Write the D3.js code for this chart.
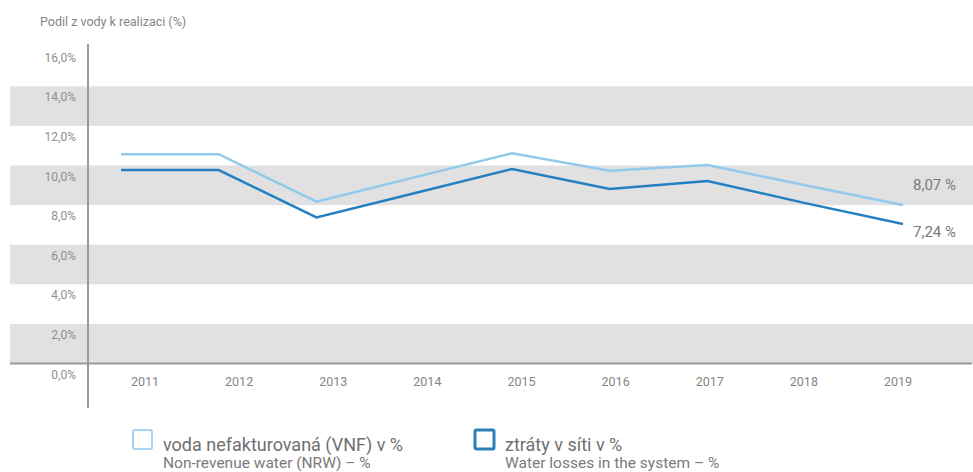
<!DOCTYPE html>
<html>
<head>
<meta charset="utf-8">
<script src="https://cdn.jsdelivr.net/npm/d3@7"></script>
<style>
  body { margin: 0; background: #fff; }
  text { font-family: Roboto, "Noto Sans", sans-serif; }
</style>
</head>
<body>
<div class="chart"></div>
<script>
// data
var years = ["2011", "2012", "2013", "2014", "2015", "2016", "2017", "2018", "2019"];
var nrw = [10.57, 10.57, 8.17, 9.4, 10.62, 9.74, 10.03, 9.0, 8.0];
var losses = [9.77, 9.77, 7.38, 8.6, 9.82, 8.81, 9.22, 8.1, 7.05];
var endLabels = ["8,07 %", "7,24 %"];
var yTicks = [0, 2, 4, 6, 8, 10, 12, 14, 16];
var bands = [[0, 2], [4, 6], [8, 10], [12, 14]];

var svgWidth = 973;
var svgHeight = 472;

var svg = d3.select(".chart")
    .append("svg")
    .attr("width", svgWidth)
    .attr("height", svgHeight);

var yScale = d3.scaleLinear().domain([0, 16]).range([363.5, 46.7]);
var xLine = d3.scalePoint().domain(years).range([121, 903]);
var xLabel = d3.scalePoint().domain(years).range([145, 898]);

// grey bands
svg.selectAll("rect.band")
    .data(bands)
    .enter()
    .append("rect")
    .attr("class", "band")
    .attr("x", 10)
    .attr("width", 963)
    .attr("y", function(d) { return yScale(d[1]); })
    .attr("height", function(d) { return yScale(d[0]) - yScale(d[1]); })
    .attr("fill", "#e1e1e1");

// baseline + vertical axis
svg.append("line")
    .attr("x1", 10).attr("x2", 972)
    .attr("y1", yScale(0)).attr("y2", yScale(0))
    .attr("stroke", "#9a9a9a").attr("stroke-width", 2);

svg.append("line")
    .attr("x1", 88).attr("x2", 88)
    .attr("y1", 44).attr("y2", 408)
    .attr("stroke", "#9a9a9a").attr("stroke-width", 2);

// y tick labels (sit under their value)
svg.selectAll("text.ytick")
    .data(yTicks)
    .enter()
    .append("text")
    .attr("class", "ytick")
    .attr("x", 76)
    .attr("y", function(d) { return yScale(d) + 15; })
    .attr("text-anchor", "end")
    .attr("font-size", 12)
    .attr("fill", "#8e8e8e")
    .text(function(d) { return d.toFixed(1).replace(".", ",") + "%"; });

// x labels
svg.selectAll("text.xtick")
    .data(years)
    .enter()
    .append("text")
    .attr("class", "xtick")
    .attr("x", function(d) { return xLabel(d); })
    .attr("y", 386)
    .attr("text-anchor", "middle")
    .attr("font-size", 12.5)
    .attr("fill", "#858585")
    .text(function(d) { return d; });

// title
svg.append("text")
    .attr("x", 40)
    .attr("y", 26)
    .attr("font-size", 12.5)
    .attr("fill", "#858585")
    .text("Podil z vody k realizaci (%)");

var line = d3.line()
    .x(function(d, i) { return xLine(years[i]); })
    .y(function(d) { return yScale(d); });

svg.append("path")
    .datum(nrw)
    .attr("d", line)
    .attr("fill", "none")
    .attr("stroke", "#93c9ee")
    .attr("stroke-width", 2.5);

svg.append("path")
    .datum(losses)
    .attr("d", line)
    .attr("fill", "none")
    .attr("stroke", "#2580c3")
    .attr("stroke-width", 2.5);

// end labels
svg.selectAll("text.endlabel")
    .data([nrw[nrw.length - 1], losses[losses.length - 1]])
    .enter()
    .append("text")
    .attr("class", "endlabel")
    .attr("x", 913)
    .attr("y", function(d, i) { return yScale(d) + (i === 0 ? -15 : 13); })
    .attr("font-size", 15)
    .attr("fill", "#7a7a7a")
    .text(function(d, i) { return endLabels[i]; });

// legend
var legendItems = [
    { x: 132, stroke: "#a9d4f1", width: 2, main: "voda nefakturovaná (VNF) v %", sub: "Non-revenue water (NRW) – %" },
    { x: 474, stroke: "#2d7fb9", width: 3, main: "ztráty v síti v %", sub: "Water losses in the system – %" }
];

var legend = svg.selectAll("g.legend")
    .data(legendItems)
    .enter()
    .append("g")
    .attr("class", "legend")
    .attr("transform", function(d) { return "translate(" + d.x + ",429)"; });

legend.append("rect")
    .attr("x", 1).attr("y", 1)
    .attr("width", 19).attr("height", 19)
    .attr("rx", 1.5)
    .attr("fill", "#fff")
    .attr("stroke", function(d) { return d.stroke; })
    .attr("stroke-width", function(d) { return d.width; });

legend.append("text")
    .attr("x", 31)
    .attr("y", 22)
    .attr("font-size", 18)
    .attr("fill", "#6f6f6f")
    .text(function(d) { return d.main; });

legend.append("text")
    .attr("x", 31)
    .attr("y", 39)
    .attr("font-size", 15.5)
    .attr("fill", "#7a7a7a")
    .text(function(d) { return d.sub; });
</script>
</body>
</html>
